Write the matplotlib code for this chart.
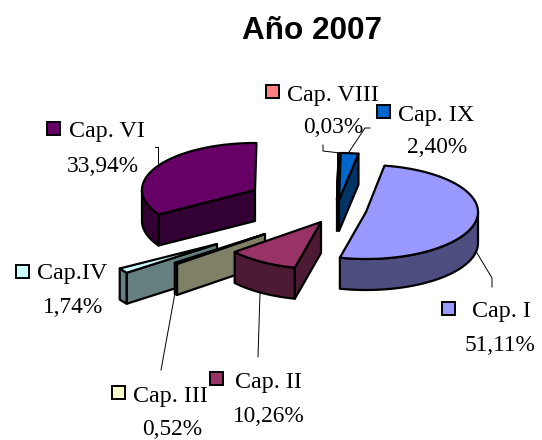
import numpy as np
import matplotlib
matplotlib.use('Agg')
import matplotlib.pyplot as plt
from matplotlib.patches import Polygon, Rectangle

categorias = ['Cap. I', 'Cap. II', 'Cap. III', 'Cap.IV', 'Cap. VI', 'Cap. VIII', 'Cap. IX']
valores = [51.11, 10.26, 0.52, 1.74, 33.94, 0.03, 2.40]
colores = ['#9999FF', '#993366', '#FFFFCC', '#CCFFFF', '#660066', '#FF8080', '#0066CC']
etiquetas = ['51,11%', '10,26%', '0,52%', '1,74%', '33,94%', '0,03%', '2,40%']

# pie geometry, in pixels of the 542x440 picture
centros = [(366, 212), (321, 222), (265, 234), (217, 244), (255, 190), (337, 200), (339, 200)]
radios_x = [112, 112, 114, 114, 113, 118, 118]
orden = [4, 5, 6, 0, 3, 2, 1]
RY, ALTO = 47, 31
INICIO = 9.5
sin_cara = [4]  # Cap. VI: its back cut is not drawn in the original

# key centre, name x/baseline, percent x/baseline
textos = [
    ((448, 309), (472, 317), (465, 351)),
    ((216, 379), (235, 388), (233, 422)),
    ((118, 393), (133, 402), (142, 435)),
    ((22, 272), (37, 279), (43, 313)),
    ((53, 129), (69, 137), (67, 172)),
    ((272, 92), (287, 101), (303, 133)),
    ((383, 112), (398, 121), (407, 153)),
]
guias = [
    [(477, 253), (492, 278), (492, 287)],
    [(260, 293), (258, 357)],
    [(175, 293), (161, 370)],
    [(155, 147), (158, 147), (158, 163)],
    [(323, 145), (323, 151), (340, 153)],
    [(370, 128), (365, 128), (349, 152)],
]


def punto(c, rx, ang):
    t = np.radians(ang)
    return c[0] + rx * np.sin(t), c[1] - RY * np.cos(t)


def arco(c, rx, a0, a1):
    angs = np.linspace(a0, a1, max(int(abs(a1 - a0)) + 2, 2))
    return [punto(c, rx, a) for a in angs]


def oscuro(col):
    return tuple(v * 0.5 for v in matplotlib.colors.to_rgb(col))


def caja(pts, col, z):
    ax.add_patch(Polygon(pts, closed=True, facecolor=col, edgecolor='black',
                         linewidth=1.6, joinstyle='round', zorder=z))


fig = plt.figure(figsize=(5.42, 4.40), dpi=100)
ax = fig.add_axes([0, 0, 1, 1])
ax.set_xlim(0, 542)
ax.set_ylim(440, 0)
ax.axis('off')

angulos = np.cumsum([0] + valores) / sum(valores) * 360 + INICIO

z = 2
for i in orden:
    c = centros[i]
    rx = radios_x[i]
    a0, a1 = angulos[i], angulos[i + 1]
    lado = oscuro(colores[i])

    # outer wall, only the front half of the ellipse shows
    v0, v1 = max(a0, 90), min(a1, 270)
    if v0 < v1:
        borde = arco(c, rx, v0, v1)
        caja(borde + [(x, y + ALTO) for x, y in borde[::-1]], lado, z)
        z += 1

    # cut faces that look towards the viewer
    if np.sin(np.radians(a0)) < 0:
        p = punto(c, rx, a0)
        caja([c, p, (p[0], p[1] + ALTO), (c[0], c[1] + ALTO)], lado, z)
        z += 1
    if np.sin(np.radians(a1)) > 0 and i not in sin_cara:
        p = punto(c, rx, a1)
        caja([c, p, (p[0], p[1] + ALTO), (c[0], c[1] + ALTO)], lado, z)
        z += 1

    caja([c] + arco(c, rx, a0, a1), colores[i], z)
    z += 1

for g in guias:
    xs, ys = zip(*g)
    ax.plot(xs, ys, color='black', linewidth=0.7, zorder=z)

for i, (clave, nombre, pct) in enumerate(textos):
    ax.text(nombre[0], nombre[1], categorias[i], family='Liberation Serif', fontsize=17.3,
            color='black', va='baseline', ha='left', zorder=z + 1)
    ax.text(pct[0], pct[1], etiquetas[i], family='Liberation Serif', fontsize=16.8,
            color='black', va='baseline', ha='left', zorder=z + 1)
    ax.add_patch(Rectangle((clave[0] - 6.5, clave[1] - 6.5), 13, 13, facecolor=colores[i],
                           edgecolor='black', linewidth=1.4, zorder=z + 2))

ax.text(312, 39, 'Año 2007', family='Liberation Sans', fontweight='bold', fontsize=22.7,
        ha='center', va='baseline', color='black')

fig.savefig('out.png', dpi=100, facecolor='white')
